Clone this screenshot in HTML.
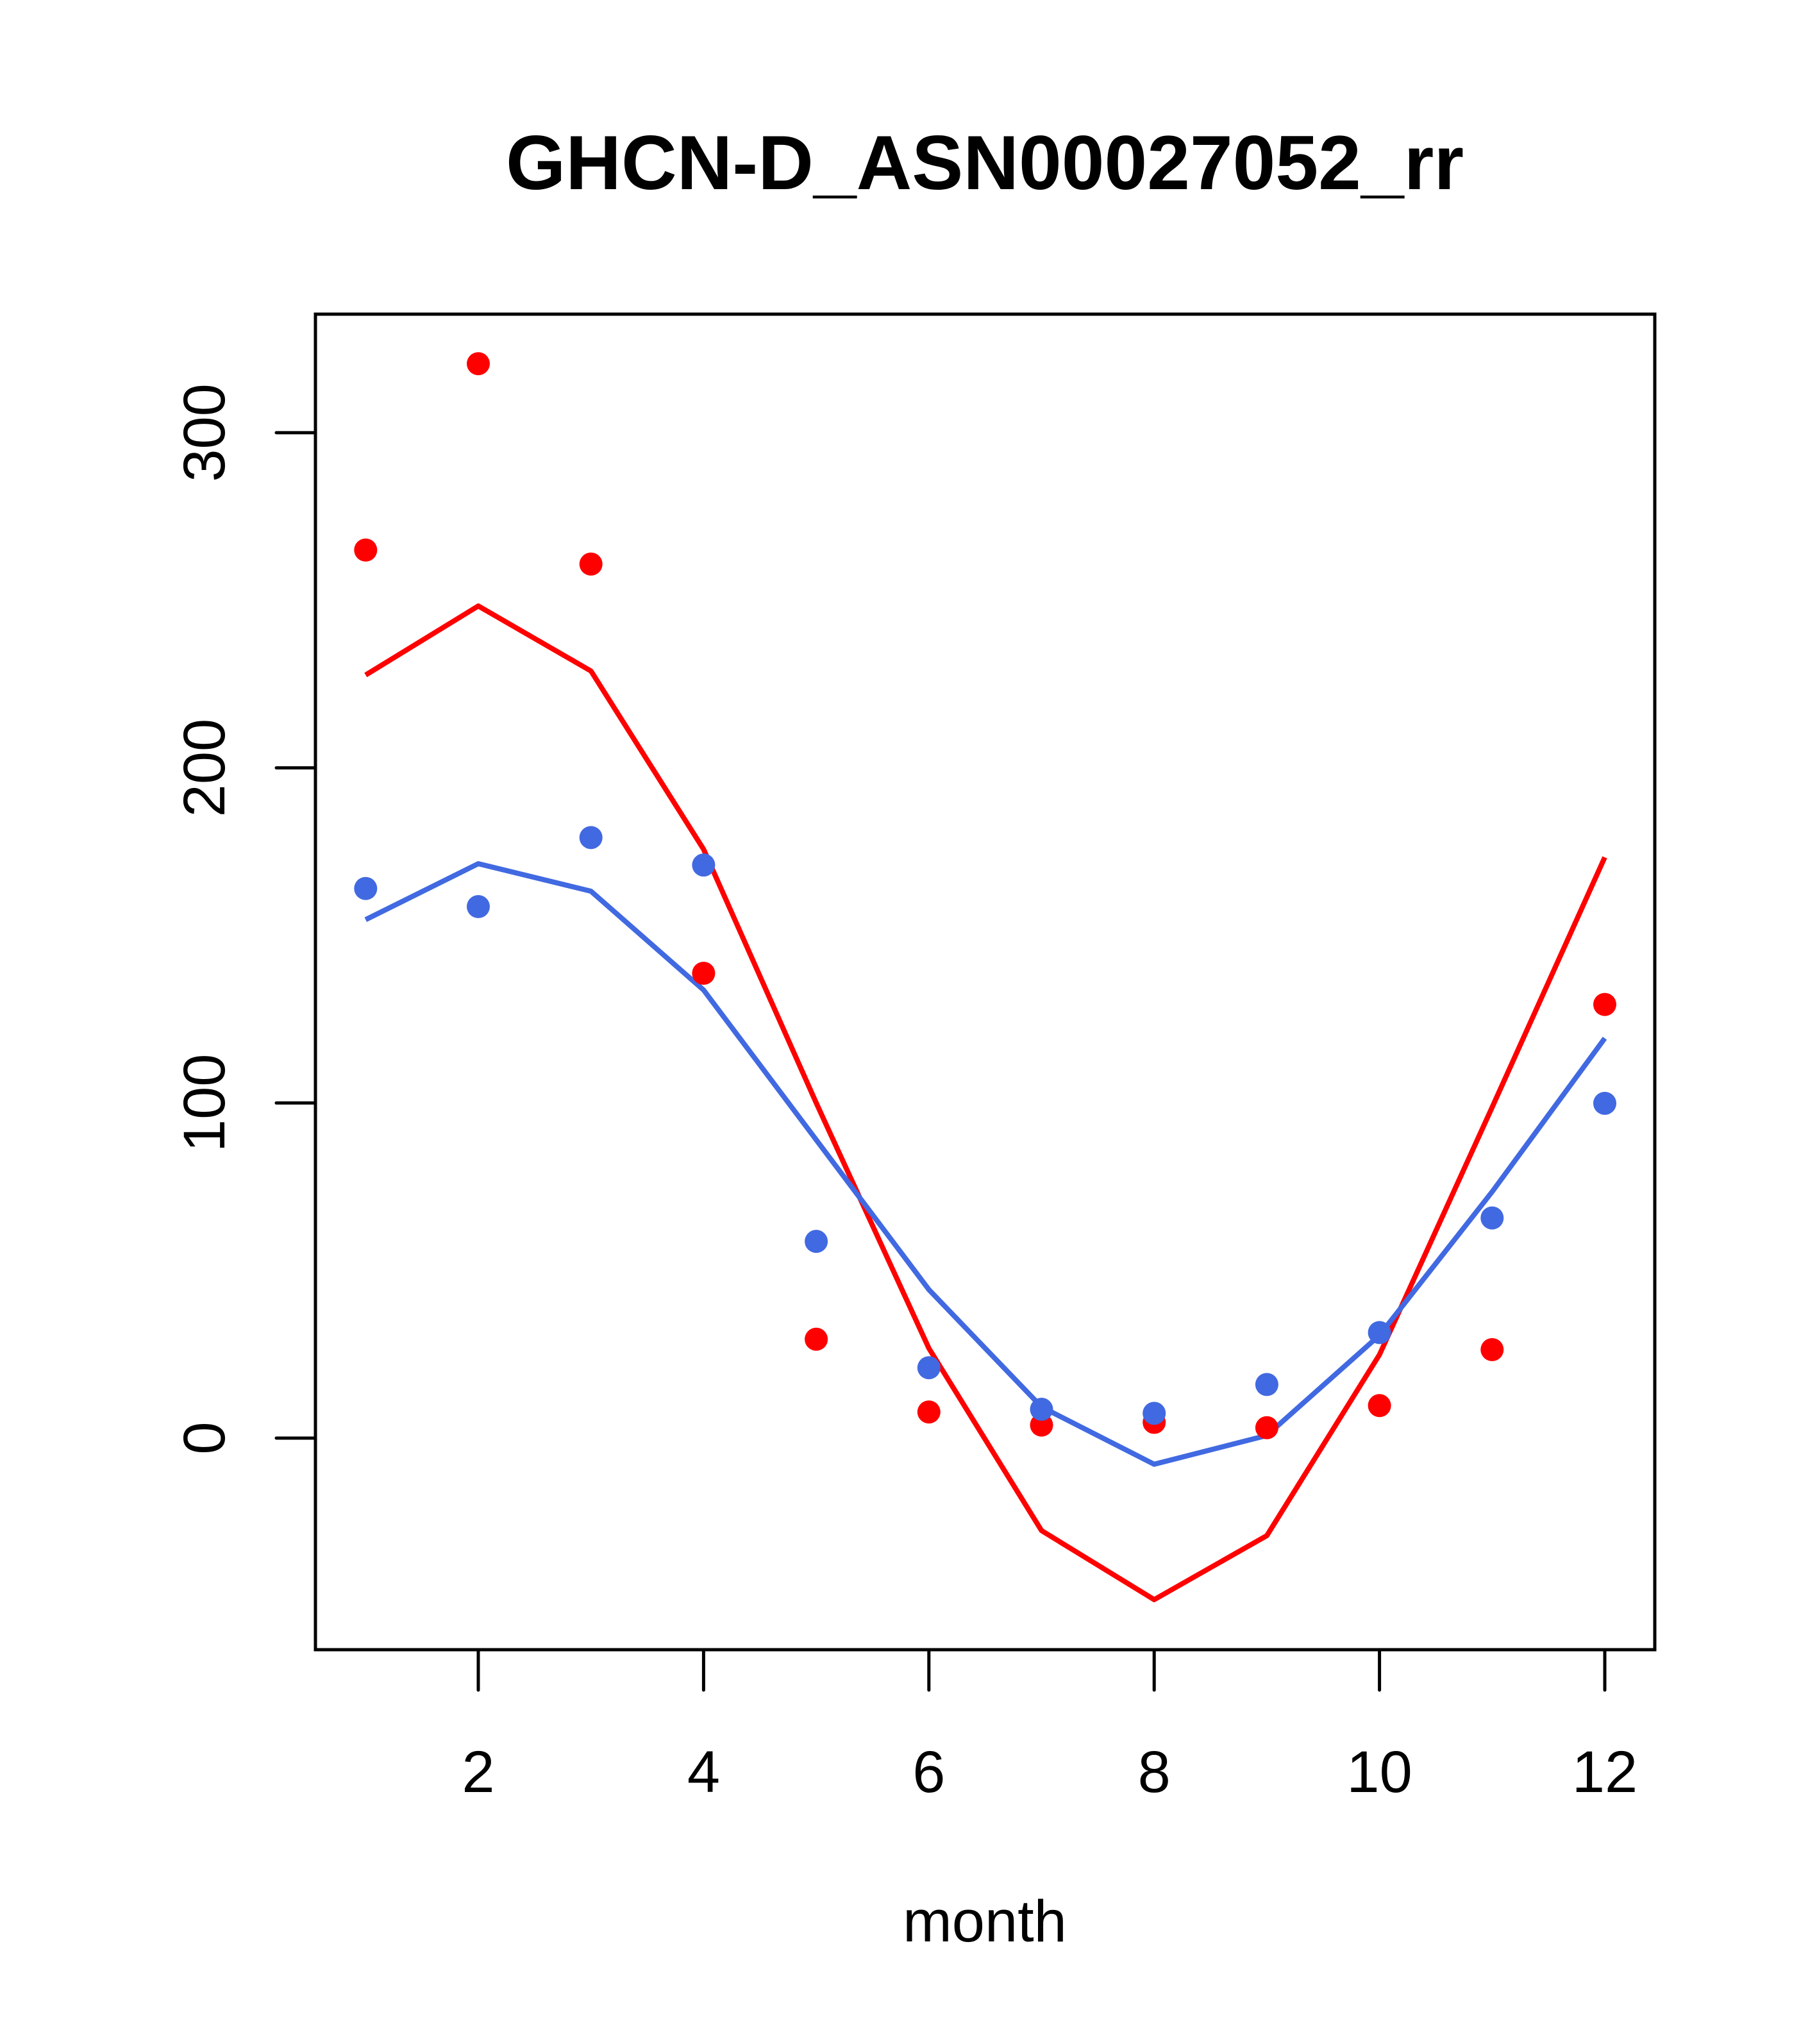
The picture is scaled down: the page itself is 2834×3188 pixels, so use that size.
<!DOCTYPE html>
<html><head><meta charset="utf-8"><style>
html,body{margin:0;padding:0;background:#fff;width:2834px;height:3188px;overflow:hidden}
text{font-family:"Liberation Sans",sans-serif;fill:#000}
</style></head><body>
<svg id="chart" width="2834" height="3188" viewBox="0 0 2834 3188" xmlns="http://www.w3.org/2000/svg">
<text x="1536" y="295" font-size="120" font-weight="bold" text-anchor="middle">GHCN-D_ASN00027052_rr</text>
<rect x="492" y="490" width="2089" height="2083" fill="none" stroke="#000" stroke-width="5"/>
<g id="axes"></g>
<g id="series"></g>
<text x="1536" y="3028" font-size="92" text-anchor="middle">month</text>
</svg>
<script>
const months=[1,2,3,4,5,6,7,8,9,10,11,12];
const redPoints=[265,320.6,260.8,138.7,29.5,7.8,3.9,4.7,3.1,9.7,26.4,129.4];
const bluePoints=[164,158.6,179.2,171,58.7,21,8.6,7.4,16,31.5,65.7,99.9];
const redLine=[227.7,248.3,228.9,175.7,100,26.8,-27.6,-48.2,-29.1,24.9,98.7,173.3];
const blueLine=[154.7,171.4,163.2,133.7,89,44.3,9.3,-7.8,0.8,30.7,73.5,119.3];
const xTicks=[2,4,6,8,10,12];
const yTicks=[0,100,200,300];
const NS="http://www.w3.org/2000/svg";
function X(m){return 746+(m-2)*175.7;}
function Y(v){return 2243-v*5.227;}
function mk(tag,attrs,parent){const e=document.createElementNS(NS,tag);for(const k in attrs)e.setAttribute(k,attrs[k]);parent.appendChild(e);return e;}
const axes=document.getElementById('axes'),ser=document.getElementById('series');
xTicks.forEach(t=>{
 const l=mk('line',{x1:X(t),x2:X(t),y1:2573,y2:2636,stroke:'#000','stroke-width':5,'stroke-linecap':'round'},axes);
 
 
 const tx=mk('text',{x:X(t),y:2795,'font-size':92,'text-anchor':'middle'},axes);tx.textContent=t;
 
 
});
yTicks.forEach(t=>{
 const l=mk('line',{x1:431,x2:492,y1:Y(t),y2:Y(t),stroke:'#000','stroke-width':5,'stroke-linecap':'round'},axes);
 
 
 const tx=mk('text',{x:0,y:0,'font-size':92,'text-anchor':'middle',transform:`translate(350,${Y(t)}) rotate(-90)`},axes);tx.textContent=t;
 
 
});
function line(vals,col,name){
 const p=mk('polyline',{points:vals.map((v,i)=>X(months[i])+','+Y(v)).join(' '),fill:'none',stroke:col,'stroke-width':8,'stroke-linejoin':'round'},ser);
 
 
}
function pts(vals,col,name){
 vals.forEach((v,i)=>{
  const c=mk('circle',{cx:X(months[i]),cy:Y(v),r:18,fill:col},ser);
  
  
 });
}
line(redLine,'#ff0000','red-fit-line');
line(blueLine,'#4169e1','blue-fit-line');
pts(redPoints,'#ff0000','red-point');
pts(bluePoints,'#4169e1','blue-point');
</script>
</body></html>
